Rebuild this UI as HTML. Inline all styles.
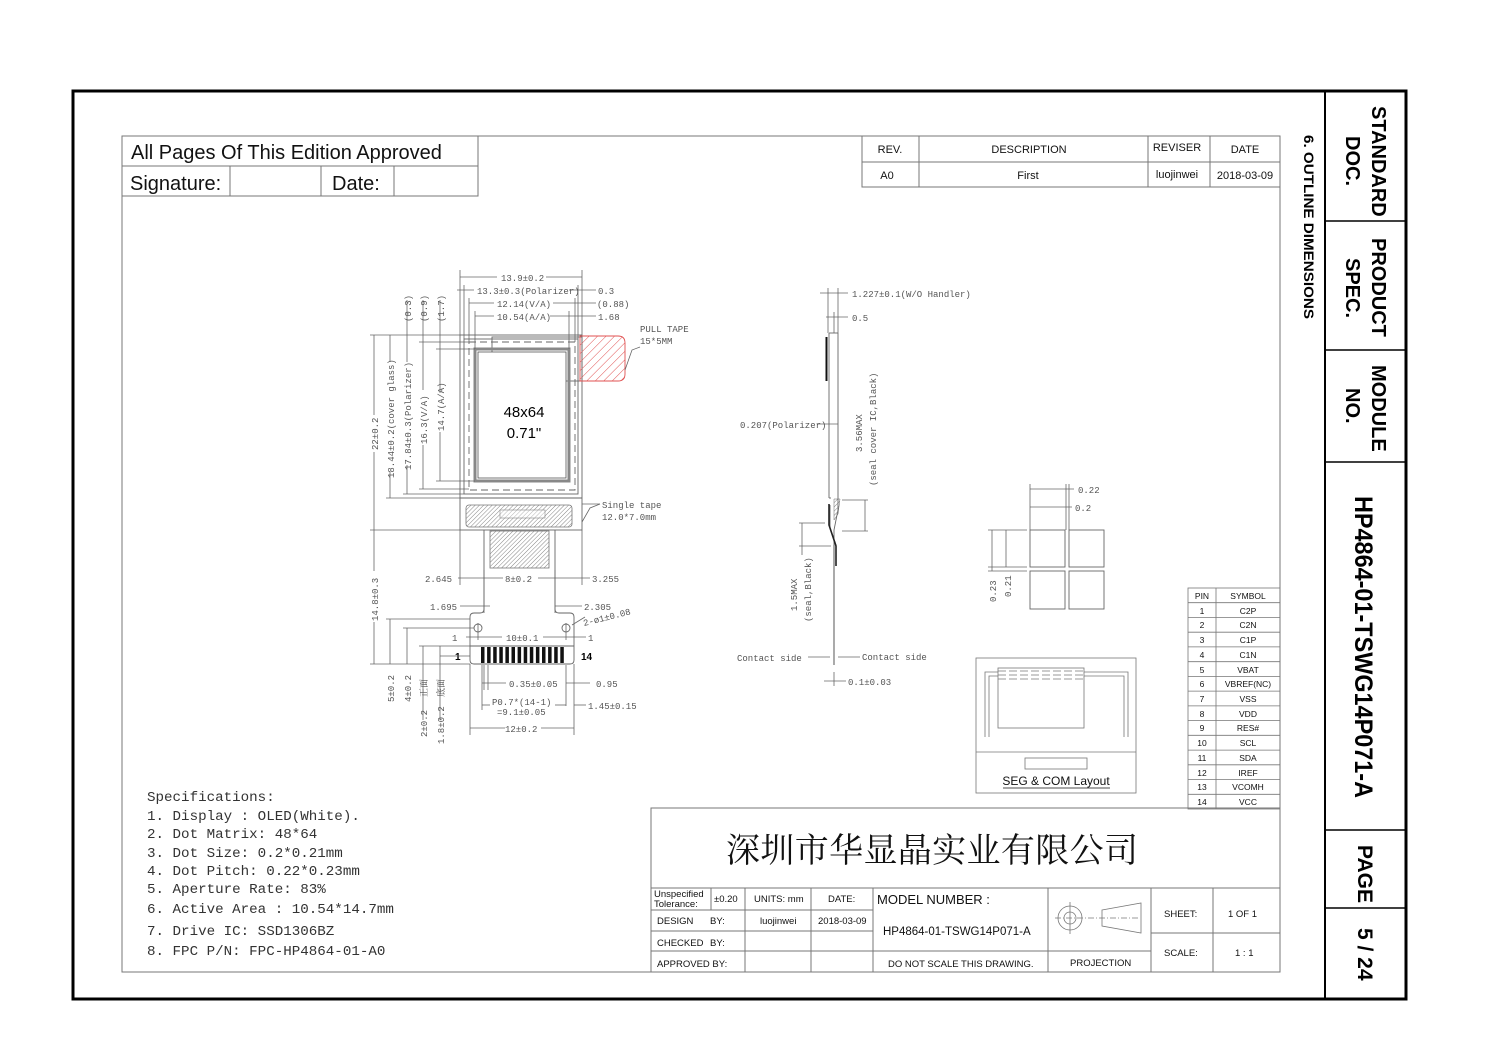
<!DOCTYPE html>
<html><head><meta charset="utf-8"><style>
html,body{margin:0;padding:0;background:#fff}
svg{display:block}
text{font-family:"Liberation Sans","Noto Sans CJK SC",sans-serif}
.m text{font-family:"Liberation Mono","DejaVu Sans Mono",monospace}
.m{fill:#555;font-size:9px}
.sp text{font-family:"Liberation Mono",monospace}
.sp{fill:#333;font-size:14.2px}
.t{font-size:11px;fill:#111}
.d line,.d path{stroke:#666;stroke-width:0.8;fill:none}
</style></head><body>
<svg width="1500" height="1060" viewBox="0 0 1500 1060" xmlns="http://www.w3.org/2000/svg">
<defs>
<pattern id="hr" width="6" height="6" patternUnits="userSpaceOnUse" patternTransform="rotate(45)"><line x1="0" y1="0" x2="0" y2="6" stroke="#e05050" stroke-width="1"/></pattern>
<pattern id="hg" width="3" height="3" patternUnits="userSpaceOnUse" patternTransform="rotate(45)"><line x1="0" y1="0" x2="0" y2="3" stroke="#777" stroke-width="0.9"/></pattern>
</defs>
<rect x="73" y="91" width="1333" height="908" fill="none" stroke="#000" stroke-width="3"/>
<line x1="1325" y1="91" x2="1325" y2="999" stroke="#000" stroke-width="2"/>
<g stroke="#000" stroke-width="1.5">
<line x1="1325" y1="221" x2="1406" y2="221"/><line x1="1325" y1="350" x2="1406" y2="350"/>
<line x1="1325" y1="462" x2="1406" y2="462"/><line x1="1325" y1="830" x2="1406" y2="830"/>
<line x1="1325" y1="908" x2="1406" y2="908"/></g>
<g font-weight="bold" font-size="20" fill="#000">
<text transform="translate(1372,106) rotate(90)">STANDARD</text>
<text transform="translate(1346,136) rotate(90)">DOC.</text>
<text transform="translate(1372,238) rotate(90)">PRODUCT</text>
<text transform="translate(1346,258) rotate(90)">SPEC.</text>
<text transform="translate(1372,365) rotate(90)">MODULE</text>
<text transform="translate(1346,388) rotate(90)">NO.</text>
<text transform="translate(1355,496) rotate(90)" font-size="25" textLength="302" lengthAdjust="spacingAndGlyphs">HP4864-01-TSWG14P071-A</text>
<text transform="translate(1358,845) rotate(90)" font-size="21">PAGE</text>
<text transform="translate(1358,928) rotate(90)" font-size="21">5 / 24</text>
<text transform="translate(1304,135) rotate(90)" font-size="14" textLength="184" lengthAdjust="spacingAndGlyphs">6. OUTLINE DIMENSIONS</text>
</g>
<rect x="122" y="136" width="1158" height="836" fill="none" stroke="#777" stroke-width="1"/>
<g stroke="#777" stroke-width="1" fill="none">
<rect x="122" y="136" width="356" height="60"/><line x1="122" y1="166" x2="478" y2="166"/>
<line x1="230" y1="166" x2="230" y2="196"/><line x1="321" y1="166" x2="321" y2="196"/><line x1="394" y1="166" x2="394" y2="196"/>
</g>
<text x="131" y="159" font-size="20" fill="#111">All Pages Of This Edition Approved</text>
<text x="130" y="190" font-size="20" fill="#111">Signature:</text>
<text x="332" y="190" font-size="20" fill="#111">Date:</text>
<g stroke="#777" stroke-width="1" fill="none">
<rect x="862" y="136" width="418" height="51"/><line x1="862" y1="162" x2="1280" y2="162"/>
<line x1="919" y1="136" x2="919" y2="187"/><line x1="1148" y1="136" x2="1148" y2="187"/><line x1="1210" y1="136" x2="1210" y2="187"/>
</g>
<g class="t" text-anchor="middle">
<text x="890" y="153">REV.</text><text x="1029" y="153">DESCRIPTION</text><text x="1177" y="151">REVISER</text><text x="1245" y="153">DATE</text>
<text x="887" y="179">A0</text><text x="1028" y="179">First</text><text x="1177" y="178">luojinwei</text><text x="1245" y="179">2018-03-09</text>
</g>
<g stroke="#777" stroke-width="0.8" fill="none">
<rect x="1188" y="588" width="92" height="221"/><line x1="1216" y1="588" x2="1216" y2="809"/>
<line x1="1188" y1="602.7" x2="1280" y2="602.7"/><line x1="1188" y1="617.5" x2="1280" y2="617.5"/><line x1="1188" y1="632.2" x2="1280" y2="632.2"/>
<line x1="1188" y1="646.9" x2="1280" y2="646.9"/><line x1="1188" y1="661.7" x2="1280" y2="661.7"/><line x1="1188" y1="676.4" x2="1280" y2="676.4"/>
<line x1="1188" y1="691.1" x2="1280" y2="691.1"/><line x1="1188" y1="705.9" x2="1280" y2="705.9"/><line x1="1188" y1="720.6" x2="1280" y2="720.6"/>
<line x1="1188" y1="735.3" x2="1280" y2="735.3"/><line x1="1188" y1="750.1" x2="1280" y2="750.1"/><line x1="1188" y1="764.8" x2="1280" y2="764.8"/>
<line x1="1188" y1="779.5" x2="1280" y2="779.5"/><line x1="1188" y1="794.3" x2="1280" y2="794.3"/>
</g>
<g font-size="8.5" fill="#111" text-anchor="middle">
<text x="1202" y="599">PIN</text><text x="1248" y="599">SYMBOL</text>
<text x="1202" y="614">1</text><text x="1248" y="614">C2P</text>
<text x="1202" y="628">2</text><text x="1248" y="628">C2N</text>
<text x="1202" y="643">3</text><text x="1248" y="643">C1P</text>
<text x="1202" y="658">4</text><text x="1248" y="658">C1N</text>
<text x="1202" y="673">5</text><text x="1248" y="673">VBAT</text>
<text x="1202" y="687">6</text><text x="1248" y="687">VBREF(NC)</text>
<text x="1202" y="702">7</text><text x="1248" y="702">VSS</text>
<text x="1202" y="717">8</text><text x="1248" y="717">VDD</text>
<text x="1202" y="731">9</text><text x="1248" y="731">RES#</text>
<text x="1202" y="746">10</text><text x="1248" y="746">SCL</text>
<text x="1202" y="761">11</text><text x="1248" y="761">SDA</text>
<text x="1202" y="776">12</text><text x="1248" y="776">IREF</text>
<text x="1202" y="790">13</text><text x="1248" y="790">VCOMH</text>
<text x="1202" y="805">14</text><text x="1248" y="805">VCC</text>
</g>
<g stroke="#777" stroke-width="1" fill="none">
<rect x="651" y="808" width="629" height="164"/>
<line x1="651" y1="888" x2="1280" y2="888"/>
<line x1="651" y1="910" x2="873" y2="910"/><line x1="651" y1="931" x2="873" y2="931"/><line x1="651" y1="951" x2="1151" y2="951"/>
<line x1="1151" y1="933" x2="1280" y2="933"/>
<line x1="711" y1="888" x2="711" y2="910"/>
<line x1="745" y1="888" x2="745" y2="972"/><line x1="811" y1="888" x2="811" y2="972"/><line x1="873" y1="888" x2="873" y2="972"/>
<line x1="1048" y1="888" x2="1048" y2="972"/><line x1="1151" y1="888" x2="1151" y2="972"/><line x1="1213" y1="888" x2="1213" y2="972"/>
</g>
<text x="932" y="862" text-anchor="middle" font-size="34" fill="#111" style="font-family:'Noto Serif CJK SC',serif" textLength="412" lengthAdjust="spacing">深圳市华显晶实业有限公司</text>
<g font-size="9.5" fill="#111">
<text x="654" y="897">Unspecified</text><text x="654" y="907">Tolerance:</text>
<text x="714" y="902">±0.20</text><text x="754" y="902">UNITS: mm</text><text x="828" y="902">DATE:</text>
<text x="657" y="924">DESIGN</text><text x="710" y="924">BY:</text><text x="760" y="924">luojinwei</text><text x="818" y="924">2018-03-09</text>
<text x="657" y="946">CHECKED</text><text x="710" y="946">BY:</text>
<text x="657" y="967">APPROVED BY:</text>
<text x="888" y="967">DO NOT SCALE THIS DRAWING.</text>
<text x="1070" y="966">PROJECTION</text>
<text x="1164" y="917">SHEET:</text><text x="1228" y="917">1  OF  1</text>
<text x="1164" y="956">SCALE:</text><text x="1235" y="956">1 : 1</text>
</g>
<text x="877" y="904" font-size="13" fill="#111">MODEL NUMBER :</text>
<text x="883" y="935" font-size="11.5" fill="#111">HP4864-01-TSWG14P071-A</text>
<g stroke="#777" stroke-width="0.8" fill="none">
<circle cx="1070" cy="918" r="12"/><circle cx="1070" cy="918" r="6"/>
<line x1="1055" y1="918" x2="1140" y2="918" stroke-dasharray="6,2,1,2"/><line x1="1070" y1="902" x2="1070" y2="934"/>
<path d="M1102 910 L1141 903 L1141 933 L1102 926 Z"/>
</g>
<g class="sp">
<text x="147" y="801">Specifications:</text>
<text x="147" y="820">1. Display :  OLED(White).</text>
<text x="147" y="838">2. Dot Matrix:  48*64</text>
<text x="147" y="857">3. Dot Size:  0.2*0.21mm</text>
<text x="147" y="875">4. Dot Pitch:  0.22*0.23mm</text>
<text x="147" y="893">5. Aperture Rate:  83%</text>
<text x="147" y="913">6. Active Area : 10.54*14.7mm</text>
<text x="147" y="935">7. Drive IC: SSD1306BZ</text>
<text x="147" y="955">8. FPC P/N: FPC-HP4864-01-A0</text>
</g>
<g stroke="#666" stroke-width="0.9" fill="none">
<rect x="460" y="335" width="122" height="195"/>
<line x1="460" y1="498" x2="582" y2="498"/>
<rect x="464" y="339" width="114" height="155"/>
<rect x="469" y="342" width="106" height="148" stroke-dasharray="7,4"/>
<rect x="492" y="337" width="90" height="44"/>
<rect x="475" y="349" width="94" height="132" stroke="#888" stroke-width="3"/>
</g>
<rect x="478" y="352" width="88" height="126" fill="#fff" stroke="#555" stroke-width="0.8"/>
<text x="524" y="417" text-anchor="middle" font-size="15" fill="#000">48x64</text>
<text x="524" y="438" text-anchor="middle" font-size="15" fill="#000">0.71"</text>
<path d="M580 336 L618 336 Q625 336 625 343 L625 374 Q625 381 618 381 L580 381 Z" fill="url(#hr)" stroke="#e05050" stroke-width="0.9"/>
<rect x="466" y="505" width="106" height="22" rx="3" fill="url(#hg)" stroke="#777" stroke-width="0.8"/>
<rect x="500" y="510" width="45" height="8" fill="#fff" fill-opacity="0.4" stroke="#888" stroke-width="0.6"/>
<rect x="490" y="531" width="59" height="37" fill="url(#hg)" stroke="#777" stroke-width="0.8"/>
<g stroke="#666" stroke-width="0.9" fill="none">
<path d="M484 530 L484 609 Q484 613 480 613 L474 613 Q470 613 470 617 L470 660 Q470 664 474 664 L570 664 Q574 664 574 660 L574 617 Q574 613 570 613 L559 613 Q555 613 555 609 L555 530"/>
<circle cx="478" cy="628" r="4"/><circle cx="566" cy="628" r="4"/>
<line x1="470" y1="646" x2="574" y2="646"/>
</g>
<g fill="#111">
<rect x="481" y="647" width="3.5" height="16"/><rect x="487.1" y="647" width="3.5" height="16"/><rect x="493.2" y="647" width="3.5" height="16"/>
<rect x="499.3" y="647" width="3.5" height="16"/><rect x="505.4" y="647" width="3.5" height="16"/><rect x="511.5" y="647" width="3.5" height="16"/>
<rect x="517.6" y="647" width="3.5" height="16"/><rect x="523.7" y="647" width="3.5" height="16"/><rect x="529.8" y="647" width="3.5" height="16"/>
<rect x="535.9" y="647" width="3.5" height="16"/><rect x="542" y="647" width="3.5" height="16"/><rect x="548.1" y="647" width="3.5" height="16"/>
<rect x="554.2" y="647" width="3.5" height="16"/><rect x="560.3" y="647" width="3.5" height="16"/>
</g>
<text x="455" y="660" font-size="10" font-weight="bold">1</text>
<text x="581" y="660" font-size="10" font-weight="bold">14</text>
<g class="d">
<line x1="460" y1="270" x2="460" y2="335"/><line x1="582" y1="270" x2="582" y2="335"/>
<line x1="460" y1="277" x2="497" y2="277"/><line x1="546" y1="277" x2="582" y2="277"/>
<line x1="457" y1="290" x2="474" y2="290"/><line x1="569" y1="290" x2="596" y2="290"/>
<line x1="464" y1="285" x2="464" y2="339"/><line x1="578" y1="285" x2="578" y2="339"/>
<line x1="469" y1="303" x2="494" y2="303"/><line x1="553" y1="303" x2="596" y2="303"/>
<line x1="469" y1="298" x2="469" y2="342"/><line x1="575" y1="298" x2="575" y2="342"/>
<line x1="475" y1="316" x2="494" y2="316"/><line x1="550" y1="316" x2="596" y2="316"/>
<line x1="475" y1="311" x2="475" y2="349"/><line x1="569" y1="311" x2="569" y2="349"/>
<line x1="370" y1="335" x2="460" y2="335"/><line x1="370" y1="530" x2="460" y2="530"/><line x1="370" y1="664" x2="470" y2="664"/>
<line x1="374" y1="335" x2="374" y2="415"/><line x1="374" y1="452" x2="374" y2="571"/><line x1="374" y1="622" x2="374" y2="664"/>
<line x1="390" y1="335" x2="390" y2="362"/><line x1="390" y1="472" x2="390" y2="498"/><line x1="386" y1="498" x2="460" y2="498"/>
<line x1="407" y1="300" x2="407" y2="362"/><line x1="407" y1="465" x2="407" y2="494"/><line x1="403" y1="494" x2="464" y2="494"/>
<line x1="423" y1="300" x2="423" y2="390"/><line x1="423" y1="445" x2="423" y2="489"/><line x1="419" y1="489" x2="469" y2="489"/><line x1="419" y1="342" x2="469" y2="342"/>
<line x1="440" y1="300" x2="440" y2="393"/><line x1="440" y1="432" x2="440" y2="481"/><line x1="436" y1="481" x2="475" y2="481"/><line x1="436" y1="349" x2="475" y2="349"/>
<line x1="390" y1="619" x2="390" y2="664"/><line x1="386" y1="619" x2="470" y2="619"/>
<line x1="407" y1="628" x2="407" y2="664"/><line x1="403" y1="628" x2="474" y2="628"/>
<line x1="423" y1="646" x2="423" y2="720"/><line x1="419" y1="646" x2="470" y2="646"/>
<line x1="440" y1="646" x2="440" y2="720"/><line x1="440" y1="656" x2="470" y2="656"/>
<line x1="470" y1="664" x2="470" y2="735"/><line x1="574" y1="664" x2="574" y2="735"/>
<line x1="470" y1="728" x2="505" y2="728"/><line x1="541" y1="728" x2="574" y2="728"/>
<line x1="460" y1="530" x2="460" y2="585"/><line x1="582" y1="530" x2="582" y2="585"/>
<line x1="484" y1="570" x2="484" y2="613"/><line x1="555" y1="570" x2="555" y2="613"/>
<line x1="458" y1="578" x2="503" y2="578"/><line x1="538" y1="578" x2="590" y2="578"/>
<line x1="460" y1="606" x2="490" y2="606"/><line x1="555" y1="606" x2="582" y2="606"/>
<line x1="466" y1="637" x2="502" y2="637"/><line x1="543" y1="637" x2="586" y2="637"/>
<line x1="478" y1="623" x2="478" y2="640"/><line x1="566" y1="623" x2="566" y2="640"/>
<line x1="484" y1="665" x2="484" y2="690"/><line x1="488" y1="665" x2="488" y2="690"/><line x1="482" y1="683" x2="506" y2="683"/>
<line x1="566" y1="665" x2="566" y2="706"/><line x1="566" y1="683" x2="590" y2="683"/><line x1="574" y1="705" x2="586" y2="705"/>
<line x1="482" y1="665" x2="482" y2="710"/><line x1="482" y1="705" x2="490" y2="705"/><line x1="555" y1="705" x2="566" y2="705"/>
<path d="M582 504 L600 504"/><path d="M582 522 L590 508 L600 504"/>
<path d="M625 370 L632 350 L640 347"/>
<path d="M572 625 L585 617"/>
</g>
<g class="m">
<text x="501" y="281">13.9±0.2</text>
<text x="477" y="294">13.3±0.3(Polarizer)</text><text x="598" y="294">0.3</text>
<text x="497" y="307">12.14(V/A)</text><text x="597" y="307">(0.88)</text>
<text x="497" y="320">10.54(A/A)</text><text x="598" y="320">1.68</text>
<text x="640" y="332">PULL TAPE</text><text x="640" y="344">15*5MM</text>
<text x="602" y="508">Single tape</text><text x="602" y="520">12.0*7.0mm</text>
<text transform="translate(378,450) rotate(-90)">22±0.2</text>
<text transform="translate(394,478) rotate(-90)">18.44±0.2(cover glass)</text>
<text transform="translate(411,470) rotate(-90)">17.84±0.3(Polarizer)</text>
<text transform="translate(427,444) rotate(-90)">16.3(V/A)</text>
<text transform="translate(444,431) rotate(-90)">14.7(A/A)</text>
<text transform="translate(411,322) rotate(-90)">(0.3)</text>
<text transform="translate(427,322) rotate(-90)">(0.9)</text>
<text transform="translate(444,322) rotate(-90)">(1.7)</text>
<text transform="translate(378,621) rotate(-90)">14.8±0.3</text>
<text transform="translate(394,702) rotate(-90)">5±0.2</text>
<text transform="translate(411,702) rotate(-90)">4±0.2</text>
<text transform="translate(427,697) rotate(-90)" font-size="9" style="font-family:'Noto Serif CJK SC',serif">正面</text>
<text transform="translate(444,697) rotate(-90)" font-size="9" style="font-family:'Noto Serif CJK SC',serif">底面</text>
<text transform="translate(427,737) rotate(-90)">2±0.2</text>
<text transform="translate(444,744) rotate(-90)">1.8±0.2</text>
<text x="425" y="582">2.645</text><text x="505" y="582">8±0.2</text><text x="592" y="582">3.255</text>
<text x="430" y="610">1.695</text><text x="584" y="610">2.305</text>
<text transform="translate(584,626) rotate(-14)">2-ø1±0.08</text>
<text x="452" y="641">1</text><text x="506" y="641">10±0.1</text><text x="588" y="641">1</text>
<text x="509" y="687">0.35±0.05</text><text x="596" y="687">0.95</text>
<text x="492" y="705">P0.7*(14-1)</text><text x="497" y="715">=9.1±0.05</text>
<text x="588" y="709">1.45±0.15</text>
<text x="505" y="732">12±0.2</text>
</g>
<g stroke="#666" stroke-width="0.9" fill="none">
<path d="M829 333 L829 498"/><path d="M838 333 L838 498 L838 510 L834 530 L834 545"/>
<path d="M829 333 L838 333"/><path d="M829 498 L831 498"/>
<path d="M830 505 L830 528 L836 545 L836 560"/>
<path d="M834 545 L834 665" stroke="#444"/>
</g>
<line x1="826.5" y1="337" x2="826.5" y2="381" stroke="#111" stroke-width="2"/>
<path d="M834 499 L840 499 L838 514 L834 520 Z" fill="url(#hg)" stroke="#666" stroke-width="0.5"/>
<path d="M829 504 L829 525 L836 546 L836 566" stroke="#222" stroke-width="1.6" fill="none"/>
<g class="d">
<line x1="828" y1="288" x2="828" y2="333"/><line x1="838" y1="288" x2="838" y2="333"/>
<line x1="820" y1="293" x2="848" y2="293"/><line x1="834" y1="312" x2="834" y2="333"/><line x1="826" y1="317" x2="848" y2="317"/>
<line x1="818" y1="424" x2="838" y2="424"/>
<line x1="842" y1="500" x2="868" y2="500"/><line x1="842" y1="531" x2="868" y2="531"/><line x1="865" y1="500" x2="865" y2="531"/>
<line x1="799" y1="523" x2="825" y2="523"/><line x1="799" y1="546" x2="831" y2="546"/><line x1="802" y1="523" x2="802" y2="555"/>
<line x1="808" y1="657" x2="830" y2="657"/><line x1="838" y1="657" x2="860" y2="657"/>
<line x1="824" y1="681" x2="846" y2="681"/><line x1="834" y1="672" x2="834" y2="686"/>
</g>
<g class="m">
<text x="852" y="297">1.227±0.1(W/O Handler)</text>
<text x="852" y="321">0.5</text>
<text x="740" y="428">0.207(Polarizer)</text>
<text transform="translate(862,452) rotate(-90)">3.56MAX</text>
<text transform="translate(876,486) rotate(-90)">(seal cover IC,Black)</text>
<text transform="translate(797,611) rotate(-90)">1.5MAX</text>
<text transform="translate(811,622) rotate(-90)">(seal,Black)</text>
<text x="737" y="661">Contact side</text><text x="862" y="660">Contact side</text>
<text x="848" y="685">0.1±0.03</text>
<text x="1078" y="493">0.22</text><text x="1075" y="511">0.2</text>
<text transform="translate(996,602) rotate(-90)">0.23</text>
<text transform="translate(1011,597) rotate(-90)">0.21</text>
</g>
<g stroke="#666" stroke-width="0.9" fill="none">
<rect x="1030" y="530" width="35" height="37"/><rect x="1069" y="530" width="35" height="37"/>
<rect x="1030" y="571" width="35" height="38"/><rect x="1069" y="571" width="35" height="38"/>
</g>
<g class="d">
<line x1="1030" y1="484" x2="1030" y2="530"/><line x1="1066" y1="484" x2="1066" y2="530"/><line x1="1069" y1="484" x2="1069" y2="530"/>
<line x1="1030" y1="489" x2="1074" y2="489"/><line x1="1030" y1="507" x2="1072" y2="507"/>
<line x1="988" y1="530" x2="1027" y2="530"/><line x1="988" y1="567" x2="1027" y2="567"/><line x1="988" y1="571" x2="1027" y2="571"/>
<line x1="992" y1="530" x2="992" y2="571"/><line x1="1006" y1="530" x2="1006" y2="567"/>
</g>
<g stroke="#777" stroke-width="0.8" fill="none">
<rect x="976" y="658" width="160" height="135"/>
<line x1="976" y1="752" x2="1136" y2="752"/>
<rect x="998" y="668" width="86" height="60"/>
<path d="M985 737 L985 672 L998 672 M989 737 L989 676 L998 676 M1084 672 L1128 672 L1128 737 M1084 676 L1124 676 L1124 737"/>
<path d="M998 671 L1084 671 M998 675 L1084 675 M998 679 L1084 679" stroke-dasharray="8,3"/>
<rect x="1025" y="758" width="62" height="11"/>
</g>
<text x="1056" y="785" text-anchor="middle" font-size="12" fill="#111">SEG &amp; COM Layout</text>
<line x1="1003" y1="788" x2="1110" y2="788" stroke="#111" stroke-width="0.8"/>
</svg>
</body></html>
